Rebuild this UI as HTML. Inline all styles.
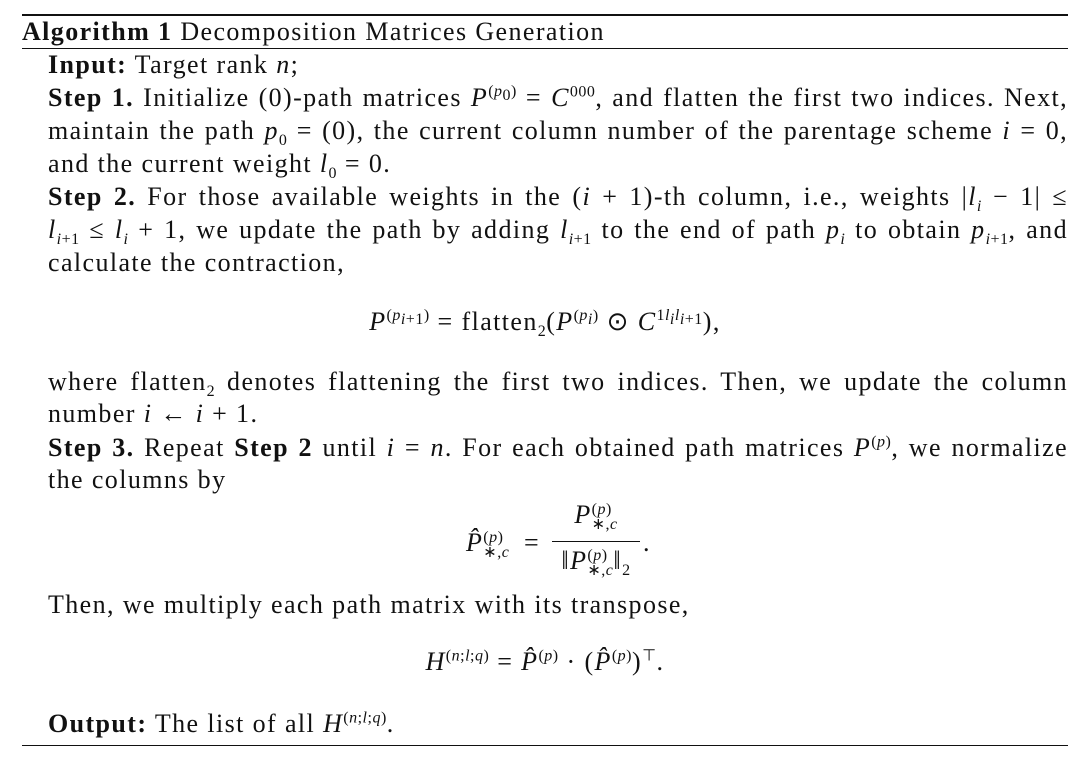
<!DOCTYPE html>
<html><head><meta charset="utf-8"><style>
body{margin:0;width:1082px;height:772px;background:#fff;position:relative;font-family:"Liberation Serif",serif;font-size:26px;letter-spacing:1.4px;color:#111;overflow:hidden}
.l{position:absolute;left:48px;width:1020px;height:30px;line-height:30px;white-space:nowrap}
.j{text-align:justify;text-align-last:justify}
.c{text-align:center;left:22px;width:1046px}
i{font-style:italic}
sup,sub{font-size:16px;line-height:0;letter-spacing:0.5px}
.r{position:absolute;left:22px;width:1046px;background:#111}
.ss{display:inline-block;vertical-align:middle;line-height:15px;font-size:16px;text-align:left;letter-spacing:0.5px}
</style></head><body>
<div class="r" style="top:14px;height:2px"></div>
<div class="r" style="top:48px;height:1px"></div>
<div class="r" style="top:745px;height:1px"></div>
<div class="l" style="left:22px;top:17px"><b>Algorithm 1</b> Decomposition Matrices Generation</div>
<div class="l" style="top:50px"><b>Input:</b> Target rank <i>n</i>;</div>
<div class="l j" style="top:83px"><b>Step 1.</b> Initialize (0)-path matrices <i>P</i><sup>(<i>p</i><sub>0</sub>)</sup> = <i>C</i><sup>000</sup>, and flatten the first two indices. Next,</div>
<div class="l j" style="top:116px">maintain the path <i>p</i><sub>0</sub> = (0), the current column number of the parentage scheme <i>i</i> = 0,</div>
<div class="l" style="top:149px">and the current weight <i>l</i><sub>0</sub> = 0.</div>
<div class="l j" style="top:182px"><b>Step 2.</b> For those available weights in the (<i>i</i> + 1)-th column, i.e., weights |<i>l<sub>i</sub></i> − 1| ≤</div>
<div class="l j" style="top:215px"><i>l</i><sub><i>i</i>+1</sub> ≤ <i>l<sub>i</sub></i> + 1, we update the path by adding <i>l</i><sub><i>i</i>+1</sub> to the end of path <i>p<sub>i</sub></i> to obtain <i>p</i><sub><i>i</i>+1</sub>, and</div>
<div class="l" style="top:248px">calculate the contraction,</div>
<div class="l c" style="top:307px"><i>P</i><sup>(<i>p</i><sub><i>i</i>+1</sub>)</sup> = flatten<sub>2</sub>(<i>P</i><sup>(<i>p<sub>i</sub></i>)</sup> ⊙ <i>C</i><sup>1<i>l<sub>i</sub>l</i><sub><i>i</i>+1</sub></sup>),</div>
<div class="l j" style="top:367px">where flatten<sub>2</sub> denotes flattening the first two indices. Then, we update the column</div>
<div class="l" style="top:399px">number <i>i</i> ← <i>i</i> + 1.</div>
<div class="l j" style="top:433px"><b>Step 3.</b> Repeat <b>Step 2</b> until <i>i</i> = <i>n</i>. For each obtained path matrices <i>P</i><sup>(<i>p</i>)</sup>, we normalize</div>
<div class="l" style="top:465px">the columns by</div>
<div style="position:absolute;left:466px;top:528px;line-height:30px;white-space:nowrap"><i>P̂</i><span class="ss">(<i>p</i>)<br>∗,<i>c</i></span></div>
<div style="position:absolute;left:524px;top:528px;line-height:30px">=</div>
<div style="position:absolute;left:552px;top:500px;width:88px;text-align:center;line-height:30px;white-space:nowrap"><i>P</i><span class="ss">(<i>p</i>)<br>∗,<i>c</i></span></div>
<div style="position:absolute;left:552px;top:541px;width:88px;height:1px;background:#111"></div>
<div style="position:absolute;left:548px;top:546px;width:96px;text-align:center;line-height:30px;white-space:nowrap">‖<i>P</i><span class="ss">(<i>p</i>)<br>∗,<i>c</i></span>‖<sub>2</sub></div>
<div style="position:absolute;left:643px;top:528px;line-height:30px">.</div>
<div class="l" style="top:590px">Then, we multiply each path matrix with its transpose,</div>
<div class="l c" style="top:647px"><i>H</i><sup>(<i>n</i>;<i>l</i>;<i>q</i>)</sup> = <i>P̂</i><sup>(<i>p</i>)</sup> · (<i>P̂</i><sup>(<i>p</i>)</sup>)<sup>⊤</sup>.</div>
<div class="l" style="top:709px"><b>Output:</b> The list of all <i>H</i><sup>(<i>n</i>;<i>l</i>;<i>q</i>)</sup>.</div>
</body></html>
